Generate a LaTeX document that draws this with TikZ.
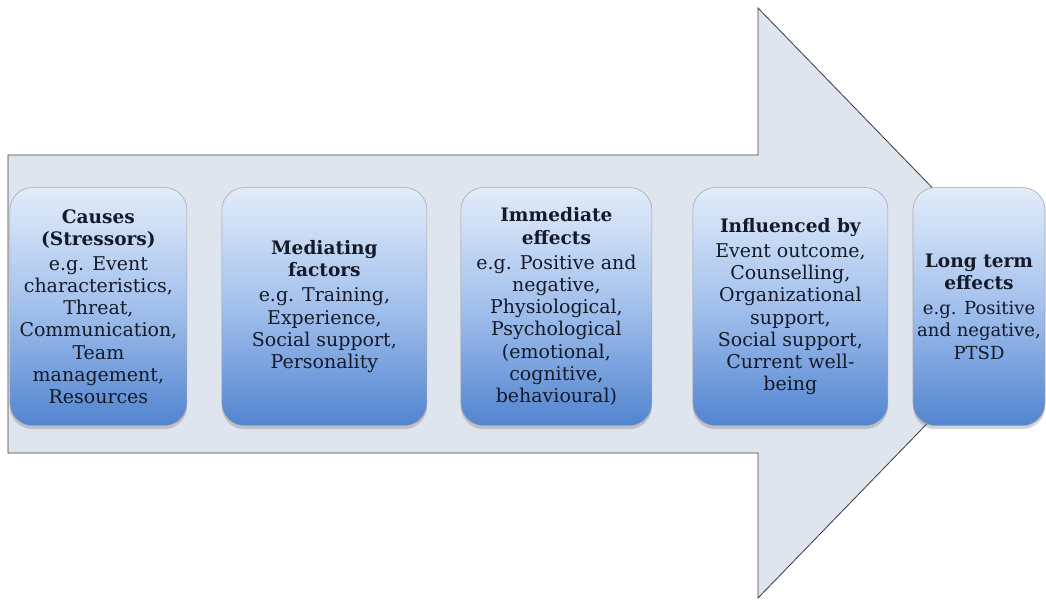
\documentclass[tikz,border=0pt]{standalone}
\usepackage{fontspec}
\setmainfont{DejaVu Serif}
\usetikzlibrary{shadows}
\definecolor{shaft}{RGB}{222,229,238}
\definecolor{boxtop}{RGB}{226,236,250}
\definecolor{boxmid}{RGB}{162,192,236}
\definecolor{boxbot}{RGB}{82,132,208}
\definecolor{ink}{RGB}{20,26,40}
\tikzstyle{stage}=[rectangle, rounded corners=16pt, draw=black!35, top color=boxtop, bottom color=boxbot, middle color=boxmid, drop shadow={shadow xshift=0pt, shadow yshift=-2.5pt, opacity=.35}, text=ink, align=center, inner sep=0pt, minimum height=5.95cm, font=\fontsize{13.5}{15.8}\selectfont]
\newcommand{\hd}[1]{{\fontsize{13.2}{15.8}\selectfont\bfseries #1}}

\begin{document}
\begin{tikzpicture}
    \useasboundingbox (0,0) rectangle (26.15,15.025);

    % big arrow behind the stages
    \draw[draw=black!75, fill=shaft, line width=.6pt]
      (0.2,3.7) -- (0.2,11.15) -- (18.95,11.15) -- (18.95,14.825)
      -- (26.1,7.45) -- (18.95,0.075) -- (18.95,3.7) -- cycle;

    \node[stage, minimum width=4.425cm] (causes) at (2.46,7.36)
      {\hd{Causes}\\\hd{(Stressors)}\\[2pt]
       e.g. Event\\characteristics,\\Threat,\\Communication,\\Team\\management,\\Resources};
    \node[stage, minimum width=5.125cm] (mediating) at (8.11,7.36)
      {\hd{Mediating}\\\hd{factors}\\[2pt]
       e.g. Training,\\Experience,\\Social support,\\Personality};
    \node[stage, minimum width=4.775cm] (immediate) at (13.91,7.36)
      {\hd{Immediate}\\\hd{effects}\\[2pt]
       e.g. Positive and\\negative,\\Physiological,\\Psychological\\(emotional,\\cognitive,\\behavioural)};
    \node[stage, minimum width=4.875cm] (influenced) at (19.76,7.36)
      {\hd{Influenced by}\\[2pt]
       Event outcome,\\Counselling,\\Organizational\\support,\\Social support,\\Current well-\\being};
    \node[stage, minimum width=3.3cm, font=\fontsize{12.8}{15.8}\selectfont] (longterm) at (24.475,7.36)
      {\hd{Long term}\\\hd{effects}\\[2pt]
       e.g. Positive\\and negative,\\PTSD};

\end{tikzpicture}
\end{document}
